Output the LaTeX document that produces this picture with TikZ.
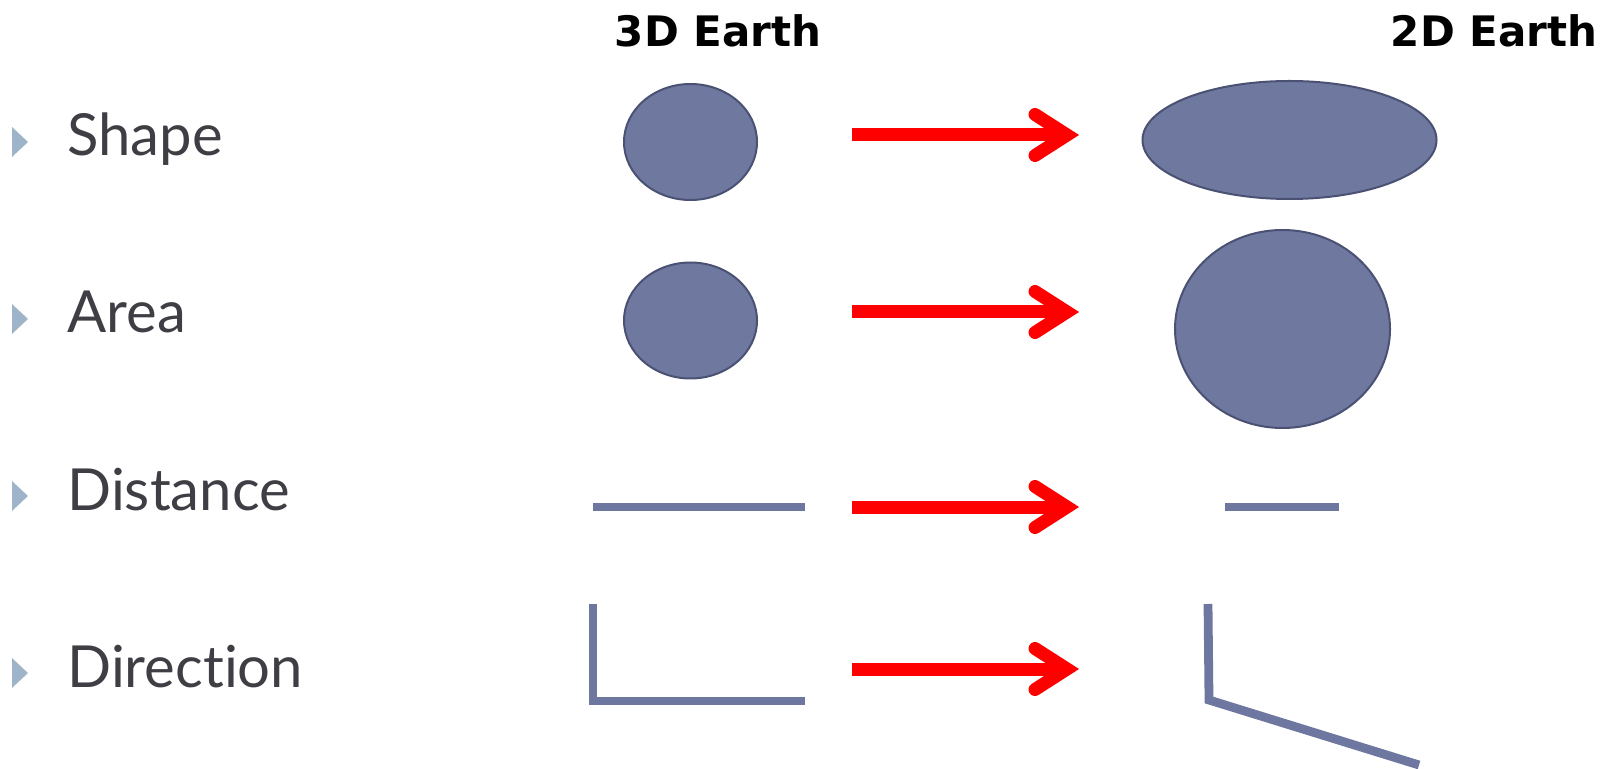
\documentclass[tikz,border=0pt]{standalone}
\usepackage{fontspec}
\usetikzlibrary{shapes.geometric,calc}
\newfontfamily\labelfont{Lato}[Ligatures={NoCommon,NoDiscretionary,NoRare}]
\newfontfamily\titlefont{DejaVu Sans}
\definecolor{earthfill}{HTML}{6F79A0}
\definecolor{earthborder}{HTML}{4A5173}
\definecolor{linecol}{HTML}{6D77A0}
\definecolor{bulletcol}{HTML}{9EB5C9}
\definecolor{labelcol}{HTML}{3E3E44}
\definecolor{arrowred}{HTML}{FF0000}
\begin{document}
\begin{tikzpicture}[x=0.5pt,y=-0.5pt,
  rowlabel/.style={font=\labelfont\fontsize{29}{32}\selectfont, text=labelcol, anchor=base west, inner sep=0pt},
  coltitle/.style={font=\titlefont\bfseries\fontsize{21}{24}\selectfont, text=black, inner sep=0pt},
  bulletmark/.style={fill=bulletcol},
  earth/.style={ellipse, fill=earthfill, draw=earthborder, line width=1pt, inner sep=0pt},
  measure/.style={draw=linecol, line width=4.4pt},
  shaft/.style={draw=arrowred, line width=6.5pt},
  barb/.style={draw=arrowred, line width=6.5pt, line cap=round, line join=miter}
]
\useasboundingbox (0,0) rectangle (1620,769);

% column titles
\node[coltitle] (t3d) at (718,31) {3D Earth};
\node[coltitle] (t2d) at (1494,31) {2D Earth};

% row labels with bullets
\foreach \b/\txt/\nm in {156/Shape/lshape, 333/Area/larea, 510/Distance/ldist, 687/Direc\kern0pt tion/ldir}{
  \fill[bulletmark] (12,\b-29) -- (28,\b-14) -- (12,\b+1) -- cycle;
  \node[rowlabel] (\nm) at (67,\b) {\txt};
}

% shapes
\node[earth, minimum width=66.5pt, minimum height=58pt] (s3) at (690.5,142) {};
\node[earth, minimum width=147pt, minimum height=59pt] (s2) at (1289.5,140) {};
\node[earth, minimum width=66.5pt, minimum height=58pt] (a3) at (690.5,320.5) {};
\node[earth, minimum width=107.5pt, minimum height=99pt] (a2) at (1282.5,329) {};

% distance
\coordinate (d3a) at (593,507); \coordinate (d3b) at (805,507);
\coordinate (d2a) at (1225,507); \coordinate (d2b) at (1339,507);
\draw[measure] (d3a) -- (d3b);
\draw[measure] (d2a) -- (d2b);

% direction
\coordinate (r3a) at (593,604); \coordinate (r3c) at (593,701); \coordinate (r3b) at (805,701);
\coordinate (r2a) at (1208,604); \coordinate (r2c) at (1209,700); \coordinate (r2b) at (1419,765);
\draw[measure] (r3a) -- (r3c) -- (r3b);
\draw[measure] (r2a) -- (r2c) -- (r2b);

% red arrows
\foreach \y/\n in {135/1, 312/2, 507/3, 669/4}{
  \coordinate (as\n) at (852,\y);
  \coordinate (ae\n) at (1067,\y);
  \draw[shaft] (as\n) -- (ae\n);
  \draw[barb] ($(ae\n)+(-32,-20.5)$) -- (ae\n) -- ($(ae\n)+(-32,20.5)$);
}
\end{tikzpicture}
\end{document}
